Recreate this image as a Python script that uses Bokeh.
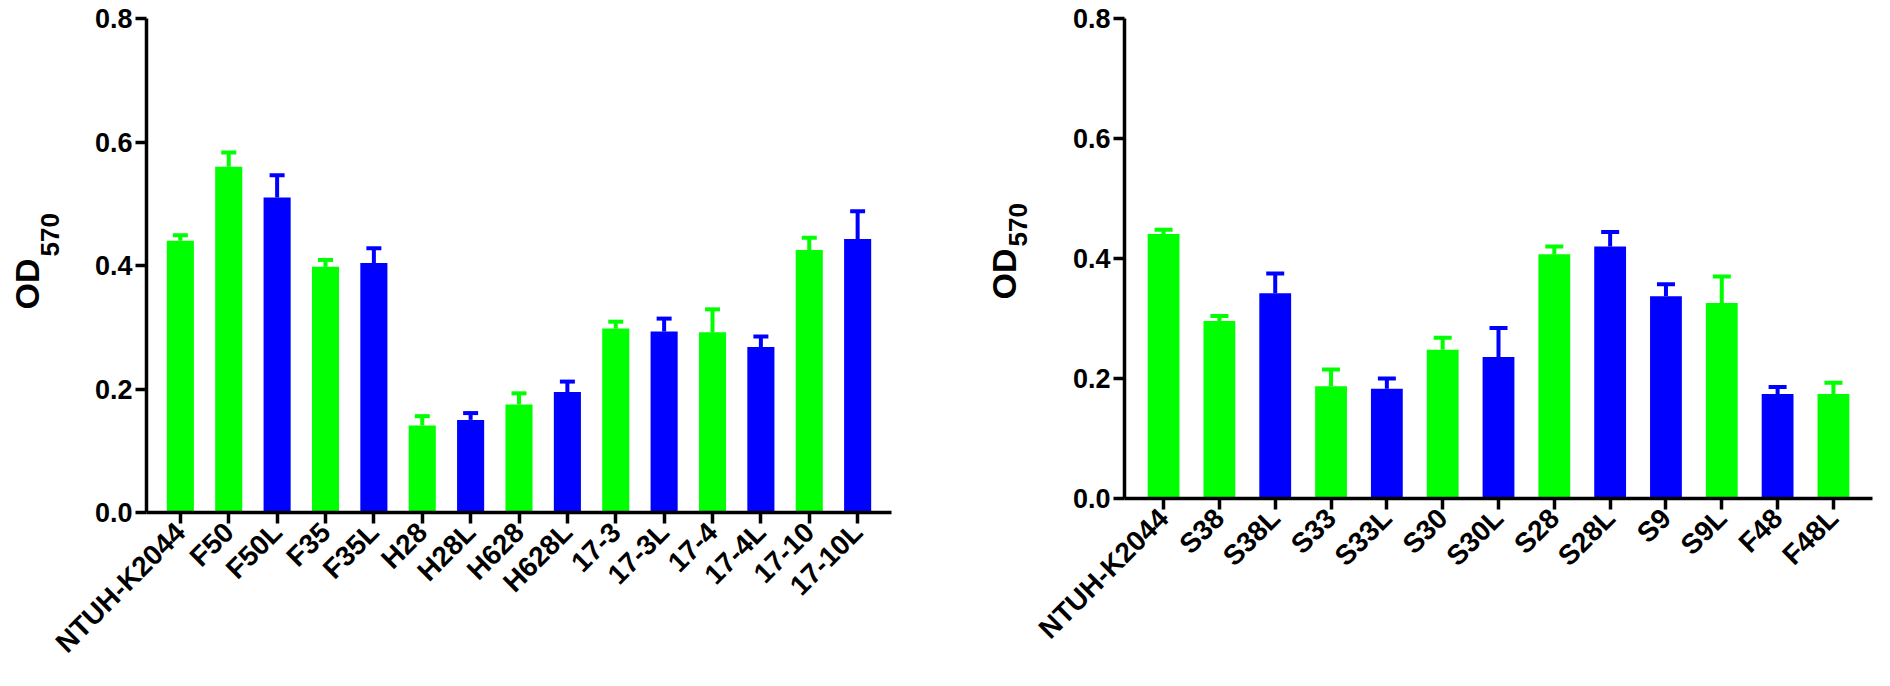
import math
from bokeh.plotting import figure
from bokeh.models import Range1d, FactorRange, FixedTicker, ColumnDataSource, Title
from bokeh.layouts import row
from bokeh.embed import file_html
from bokeh.resources import INLINE

# ---- data ----
left_strains = ["NTUH-K2044", "F50", "F50L", "F35", "F35L", "H28", "H28L", "H628",
                "H628L", "17-3", "17-3L", "17-4", "17-4L", "17-10", "17-10L"]
left_means = [0.440, 0.560, 0.510, 0.398, 0.404, 0.141, 0.150, 0.175,
              0.195, 0.298, 0.293, 0.292, 0.268, 0.425, 0.443]
left_errors = [0.009, 0.023, 0.036, 0.011, 0.024, 0.015, 0.011, 0.018,
               0.017, 0.011, 0.021, 0.037, 0.017, 0.020, 0.045]
left_groups = ["wt", "wt", "L", "wt", "L", "wt", "L", "wt",
               "L", "wt", "L", "wt", "L", "wt", "L"]

right_strains = ["NTUH-K2044", "S38", "S38L", "S33", "S33L", "S30", "S30L",
                 "S28", "S28L", "S9", "S9L", "F48", "F48L"]
right_means = [0.441, 0.296, 0.342, 0.187, 0.183, 0.248, 0.236,
               0.407, 0.420, 0.337, 0.326, 0.174, 0.174]
right_errors = [0.007, 0.008, 0.033, 0.028, 0.017, 0.020, 0.048,
                0.013, 0.024, 0.020, 0.044, 0.012, 0.019]
right_groups = ["wt", "wt", "L", "wt", "L", "wt", "L",
                "wt", "L", "L", "wt", "L", "wt"]

y_ticks = [0.0, 0.2, 0.4, 0.6, 0.8]
y_tick_labels = ["0.0", "0.2", "0.4", "0.6", "0.8"]
y_title_main = "OD"
y_title_sub = "570"

GROUP_COLORS = {"wt": "#00FF00", "L": "#0000FF"}
FONT = "Liberation Sans"


def make_panel(strains, means, errors, groups, frame_w, frame_h,
               b_left, b_right, b_top, b_bottom, bar_w, cap_px,
               sub_standoff, main_standoff, main_offset):
    colors = [GROUP_COLORS[g] for g in groups]
    tops = [m + e for m, e in zip(means, errors)]
    src = ColumnDataSource(dict(x=strains, top=means, etop=tops, color=colors))
    p = figure(x_range=FactorRange(factors=strains, range_padding=0.2,
                                   range_padding_units="absolute"),
               y_range=Range1d(0, 0.8),
               frame_width=frame_w, frame_height=frame_h,
               min_border_left=b_left, min_border_right=b_right,
               min_border_top=b_top, min_border_bottom=b_bottom,
               output_backend="svg", toolbar_location=None)
    p.vbar(x="x", top="top", bottom=0, width=bar_w, fill_color="color",
           line_color=None, source=src)
    p.segment(x0="x", y0="top", x1="x", y1="etop", line_color="color",
              line_width=4, source=src)
    p.scatter(x="x", y="etop", marker="dash", size=cap_px, line_color="color",
              line_width=4, source=src)

    p.grid.visible = False
    p.outline_line_color = None
    p.background_fill_color = "white"
    p.border_fill_color = "white"

    for ax in (p.xaxis[0], p.yaxis[0]):
        ax.axis_line_color = "black"
        ax.axis_line_width = 3.5
        ax.major_tick_line_color = "black"
        ax.major_tick_line_width = 3.5
        ax.major_tick_out = 11
        ax.major_tick_in = 0
        ax.minor_tick_out = 0
        ax.minor_tick_in = 0
        ax.major_label_text_font = FONT
        ax.major_label_text_font_style = "bold"
        ax.major_label_text_color = "black"

    p.xaxis.major_label_text_font_size = "28px"
    p.xaxis.major_label_orientation = math.pi / 4
    p.xaxis.major_label_standoff = 4

    p.yaxis.major_label_text_font_size = "27px"
    p.yaxis.ticker = FixedTicker(ticks=y_ticks)
    p.yaxis.major_label_overrides = {t: s for t, s in zip(y_ticks, y_tick_labels)}
    p.yaxis.major_label_standoff = 3

    # y-axis title "OD" with subscript "570", as two side titles
    p.add_layout(Title(text=y_title_sub, align="left", vertical_align="bottom",
                       offset=main_offset + 53, standoff=sub_standoff,
                       text_font=FONT, text_font_style="bold",
                       text_font_size="26px", text_color="black"), "left")
    p.add_layout(Title(text=y_title_main, align="left", vertical_align="bottom",
                       offset=main_offset, standoff=main_standoff,
                       text_font=FONT, text_font_style="bold",
                       text_font_size="34px", text_color="black"), "left")
    return p


p1 = make_panel(left_strains, left_means, left_errors, left_groups,
                frame_w=745, frame_h=494, b_left=146, b_right=31, b_top=18,
                b_bottom=150, bar_w=0.56, cap_px=15,
                sub_standoff=66, main_standoff=-80, main_offset=203)
p2 = make_panel(right_strains, right_means, right_errors, right_groups,
                frame_w=748, frame_h=480, b_left=202, b_right=2, b_top=14,
                b_bottom=170, bar_w=0.57, cap_px=18,
                sub_standoff=86, main_standoff=-118, main_offset=199)

layout = row(p1, p2)
open("out.html", "w").write(file_html(layout, INLINE))
